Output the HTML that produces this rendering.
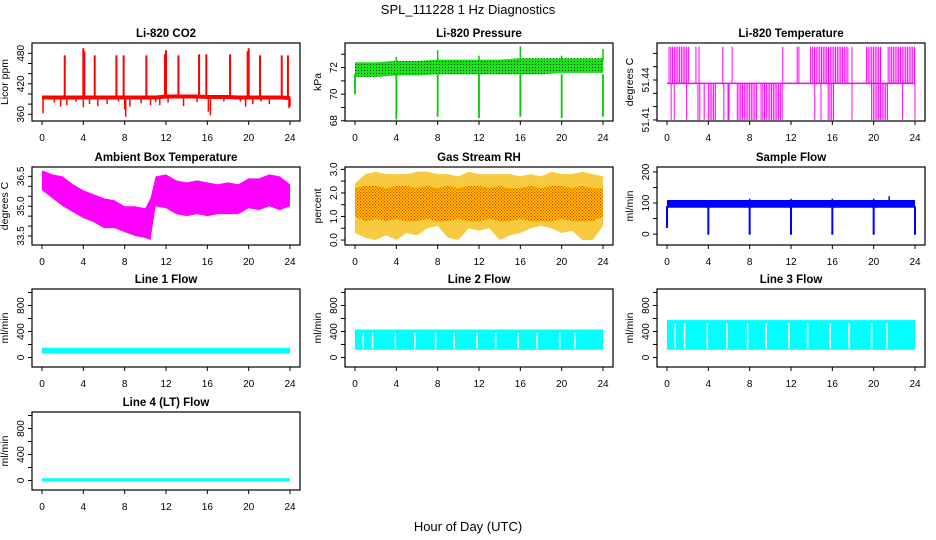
<!DOCTYPE html>
<html><head><meta charset="utf-8"><title>SPL_111228 1 Hz Diagnostics</title>
<style>
html,body{margin:0;padding:0;background:#fff;}
svg{display:block;font-family:"Liberation Sans",sans-serif;}
</style></head>
<body>
<svg id="chart" width="936" height="540" viewBox="0 0 936 540" xmlns="http://www.w3.org/2000/svg">
<defs>
<pattern id="gdots" width="3" height="3" patternUnits="userSpaceOnUse"><rect width="3" height="3" fill="#19e019"/><rect x="1" y="1" width="1" height="1" fill="#0a3a0a"/></pattern>
<pattern id="rhpat" width="3" height="3" patternUnits="userSpaceOnUse"><rect width="3" height="3" fill="#ffcc00"/><rect x="0" y="0" width="1.2" height="1.2" fill="#f03000"/><rect x="1.5" y="1.5" width="1.2" height="1.2" fill="#f03000"/></pattern>
</defs>
<text x="468" y="14" text-anchor="middle" font-size="13">SPL_111228  1 Hz Diagnostics</text>
<text x="468" y="531" text-anchor="middle" font-size="13">Hour of Day (UTC)</text>
</svg>
<script>
// ---- data ----
const xTicks = [0,4,8,12,16,20,24];
// CO2
const co2Hours = [0,1,2,3,4,5,6,7,8,9,10,11,12,13,14,15,16,17,18,19,20,21,22,23,24];
const co2Base = [393,393,393,393,393,393,393,393,393,393,393,393,395,395,395,395,394,394,394,393,393,393,393,393,392];
const co2UpHours = [2.2,4.0,4.1,5.1,7.2,7.9,10.1,11.9,12.0,13.2,15.2,15.9,18.2,19.9,20.0,21.1,23.2,23.8];
const co2UpVals = [476,490,484,476,476,476,476,478,486,476,478,478,478,484,490,476,476,476];
const co2DownHours = [0.1,1.2,1.8,2.4,3.3,4.0,4.6,5.4,6.3,7.4,8.0,8.1,8.5,9.6,10.5,11.0,11.4,12.2,13.7,15.0,16.1,16.3,17.6,19.2,19.7,20.4,21.2,22.0,23.9,24.0];
const co2DownVals = [362,383,375,378,385,374,380,376,380,385,370,355,375,382,378,384,378,383,376,384,365,358,385,385,375,380,385,380,372,375];
// Pressure
const presHours = [0,2,4,6,8,10,12,14,16,18,20,22,24];
const presLow = [71.3,71.3,71.4,71.4,71.5,71.5,71.5,71.5,71.5,71.5,71.6,71.6,71.6];
const presHigh = [72.4,72.4,72.5,72.5,72.6,72.6,72.6,72.6,72.7,72.7,72.7,72.7,72.7];
const presDropHours = [0,4,8,12,16,20,24];
const presDropVals = [70.0,68.1,68.3,68.2,68.3,68.2,68.3];
const presSpikeHours = [4,8,12,16,20,24];
const presSpikeVals = [72.8,73.3,72.9,73.6,72.9,73.4];
// Li-820 temperature
const ltBase = 51.4375, ltHigh = 51.465, ltLow = 51.41;
const ltUpStart = [0.2,2.1,2.8,3.1,5.4,6.3,11.2,12.6,13.9,14.1,17.9,19.3,21.4];
const ltUpEnd   = [1.9,2.1,2.8,3.1,5.4,6.3,11.2,12.9,13.9,17.5,17.9,20.7,24.0];
const ltDownStart = [0.4,0.7,1.9,3.0,3.6,4.0,5.5,5.9,6.0,6.8,9.1,14.3,14.9,15.6,17.9,19.8,22.8,24.0];
const ltDownEnd   = [0.4,0.7,1.9,3.3,3.6,4.8,5.5,5.9,6.0,8.8,11.2,14.3,14.9,16.2,17.9,21.4,22.8,24.0];
// Ambient box temperature
const ambHours = [0,1,2,3,4,5,6,7,8,9,10,10.5,11,12,13,14,15,16,17,18,19,20,21,22,23,24];
const ambHigh = [36.8,36.6,36.5,36.1,35.8,35.6,35.4,35.3,35.0,35.0,34.9,35.4,36.5,36.6,36.3,36.2,36.3,36.2,36.1,36.2,36.1,36.4,36.4,36.6,36.5,36.1];
const ambLow  = [35.8,35.4,35.0,34.7,34.4,34.2,33.9,33.9,33.7,33.5,33.4,33.3,35.0,34.9,34.6,34.5,34.6,34.5,34.6,34.6,34.6,34.9,34.8,35.0,34.8,35.0];
// Gas stream RH
const rhHours = [0,1,2,3,4,5,6,7,8,9,10,11,12,13,14,15,16,17,18,19,20,21,22,23,24];
const rhOuterHigh = [2.4,2.8,2.9,2.8,2.8,2.8,2.9,2.9,2.8,2.8,2.7,2.9,2.8,2.8,2.8,2.8,2.7,2.8,2.7,2.9,2.8,2.8,2.9,2.8,2.7];
const rhOuterLow  = [0.3,0.1,0.0,0.2,0.0,0.3,0.2,0.5,0.6,0.1,0.0,0.5,0.4,0.5,0.0,0.2,0.3,0.5,0.6,0.5,0.3,0.4,0.0,0.0,0.6];
const rhCoreHigh = [2.2,2.3,2.3,2.2,2.3,2.3,2.2,2.3,2.2,2.3,2.2,2.3,2.3,2.2,2.3,2.2,2.2,2.3,2.2,2.3,2.3,2.2,2.3,2.2,2.2];
const rhCoreLow  = [1.0,0.8,0.9,0.8,0.9,0.8,0.8,0.9,0.8,0.8,0.9,0.8,0.8,0.9,0.8,0.8,0.9,0.8,0.8,0.8,0.9,0.8,0.8,0.8,1.0];
// Sample flow
const sfLow = 85, sfHigh = 110;
const sfDropHours = [0,4,8,12,16,20,24];
const sfDropVals = [20,-2,-2,-2,-2,-2,-2];
const sfSpikeHours = [8.0,12.0,16.0,20.0,21.5];
const sfSpikeVals = [114,114,114,114,122];
// Line flows
const lineGapHours = [0.8,1.7,3.9,5.8,7.8,9.6,11.8,13.6,15.8,17.6,19.8,21.3];
const line1Band = [60,150];
const line2Band = [120,430];
const line3Band = [120,575];
const line4Band = [-15,35];

// ---- layout ----
const NS = "http://www.w3.org/2000/svg";
const svg = document.getElementById('chart');
const colLeft = [32,345,657], rowTop = [43,167,289,412];
const BW = 268, BH = 78;
function el(tag, attrs, parent){
  const e = document.createElementNS(NS, tag);
  for (const k in attrs) e.setAttribute(k, attrs[k]);
  (parent||svg).appendChild(e);
  return e;
}
function panel(col,row,title,ylab,ymin,ymax,ticks,labels,name,dec){
  const L = colLeft[col], T = rowTop[row];
  const g = el('g',{});
  
  
  const sx = h => L + 10 + h*(248/24);
  const sy = v => T + BH - (v-ymin)/(ymax-ymin)*BH;
  const t = el('text',{x:L+BW/2,y:T-6,'text-anchor':'middle','font-size':'11.5','font-weight':'bold'},g);
  t.textContent = title;
  
  
  const yl = el('text',{x:0,y:0,'text-anchor':'middle','font-size':'10.5',transform:`translate(${L-24},${T+BH/2}) rotate(-90)`},g);
  yl.textContent = ylab;
  
  
  const clip = el('clipPath',{id:'clip-'+name},g);
  el('rect',{x:L,y:T,width:BW,height:BH},clip);
  const data = el('g',{'clip-path':`url(#clip-${name})`},g);
  
  
  const yax = el('g',{},g);
  
  
  ticks.forEach(v=>{
    el('line',{x1:L-4,x2:L,y1:sy(v),y2:sy(v),stroke:'#000','stroke-width':1},yax);
  });
  labels.forEach(v=>{
    const tx = el('text',{x:0,y:0,'text-anchor':'middle','font-size':'10',transform:`translate(${L-8},${sy(v)}) rotate(-90)`},yax);
    tx.textContent = dec!=null ? v.toFixed(dec) : String(v);
    
    
  });
  const xax = el('g',{},g);
  
  
  xTicks.forEach(h=>{
    el('line',{x1:sx(h),x2:sx(h),y1:T+BH,y2:T+BH+4,stroke:'#000','stroke-width':1},xax);
    const tx = el('text',{x:sx(h),y:T+BH+20,'text-anchor':'middle','font-size':'10'},xax);
    tx.textContent = String(h);
    
    
  });
  const box = el('rect',{x:L,y:T,width:BW,height:BH,fill:'none',stroke:'#000','stroke-width':1.2},g);
  
  
  return {sx,sy,g:data};
}
function band(p,hours,lo,hi,fill){
  let d = hours.map((h,i)=>`${i?'L':'M'}${p.sx(h)},${p.sy(hi[i])}`).join('');
  for (let i=hours.length-1;i>=0;i--) d += `L${p.sx(hours[i])},${p.sy(lo[i])}`;
  const e = el('path',{d:d+'Z',fill:fill,stroke:'none'},p.g);
  
  
  return e;
}
function vline(p,h,v1,v2,color,w){
  const e = el('line',{x1:p.sx(h),x2:p.sx(h),y1:p.sy(v1),y2:p.sy(v2),stroke:color,'stroke-width':w||1.5},p.g);
  
  
}

// CO2
{
  const p = panel(0,0,'Li-820 CO2','Licor ppm',346.8,500.3,[360,380,400,420,440,460,480],[360,420,480],'co2');
  const d = co2Hours.map((h,i)=>`${i?'L':'M'}${p.sx(h)},${p.sy(co2Base[i])}`).join('');
  const ln = el('path',{d:d,fill:'none',stroke:'#ff0000','stroke-width':4},p.g);
  
  
  co2UpHours.forEach((h,i)=>vline(p,h,393,co2UpVals[i],'#ff0000',2));
  co2DownHours.forEach((h,i)=>vline(p,h,393,co2DownVals[i],'#ff0000',1.5));
}
// Pressure
{
  const p = panel(1,0,'Li-820 Pressure','kPa',67.98,73.85,[68,69,70,71,72,73],[68,70,72],'pressure');
  band(p,presHours,presLow,presHigh,'url(#gdots)');
  presDropHours.forEach((h,i)=>vline(p,h,71.5,presDropVals[i],'#00cc00',1.8));
  presSpikeHours.forEach((h,i)=>vline(p,h,72.5,presSpikeVals[i],'#00cc00',1.5));
}
// Li-820 temp
{
  const p = panel(2,0,'Li-820 Temperature','degrees C',51.4092,51.4678,[51.41,51.42,51.43,51.44,51.45,51.46],[51.41,51.44],'li820-temp',2);
  const b = el('line',{x1:p.sx(0),x2:p.sx(24),y1:p.sy(ltBase),y2:p.sy(ltBase),stroke:'#ff00ff','stroke-width':1.5},p.g);
  
  
  ltUpStart.forEach((s,i)=>{ for(let h=s; h<=ltUpEnd[i]+1e-6; h+=0.17) vline(p,h,ltBase,ltHigh,'#ff00ff',1); });
  ltDownStart.forEach((s,i)=>{ for(let h=s; h<=ltDownEnd[i]+1e-6; h+=0.17) vline(p,h,ltBase,ltLow,'#ff00ff',1); });
}
// Ambient
{
  const p = panel(0,1,'Ambient Box Temperature','degrees C',33.05,36.97,[33.5,34,34.5,35,35.5,36,36.5],[33.5,35.0,36.5],'ambient-temp',1);
  band(p,ambHours,ambLow,ambHigh,'#ff00ff');
}
// RH
{
  const p = panel(1,1,'Gas Stream RH','percent',-0.21,3.1,[0,0.5,1,1.5,2,2.5,3],[0,1,2,3],'gas-rh',1);
  band(p,rhHours,rhOuterLow,rhOuterHigh,'#f5b800').setAttribute('opacity','0.75');
  band(p,rhHours,rhCoreLow,rhCoreHigh,'url(#rhpat)');
}
// Sample flow
{
  const p = panel(2,1,'Sample Flow','ml/min',-35,216,[0,50,100,150,200],[0,100,200],'sample-flow');
  band(p,[0,24],[sfLow,sfLow],[sfHigh,sfHigh],'#0000ff');
  sfDropHours.forEach((h,i)=>vline(p,h,90,sfDropVals[i],'#0000ff',2));
  sfSpikeHours.forEach((h,i)=>vline(p,h,100,sfSpikeVals[i],'#0000ff',1.5));
}
// Line flows
function linePanel(col,row,title,name,bandVals,gaps){
  const p = panel(col,row,title,'ml/min',-146,1054,[0,200,400,600,800,1000],[0,400,800],name);
  band(p,[0,24],[bandVals[0],bandVals[0]],[bandVals[1],bandVals[1]],'#00ffff');
  if (gaps) gaps.forEach(h=>vline(p,h,bandVals[0]+20,bandVals[1]-50,'#ffffff',1.6));
}
linePanel(0,2,'Line 1 Flow','line1-flow',line1Band,null);
linePanel(1,2,'Line 2 Flow','line2-flow',line2Band,lineGapHours);
linePanel(2,2,'Line 3 Flow','line3-flow',line3Band,lineGapHours);
linePanel(0,3,'Line 4 (LT) Flow','line4-flow',line4Band,null);
</script>
</body></html>
